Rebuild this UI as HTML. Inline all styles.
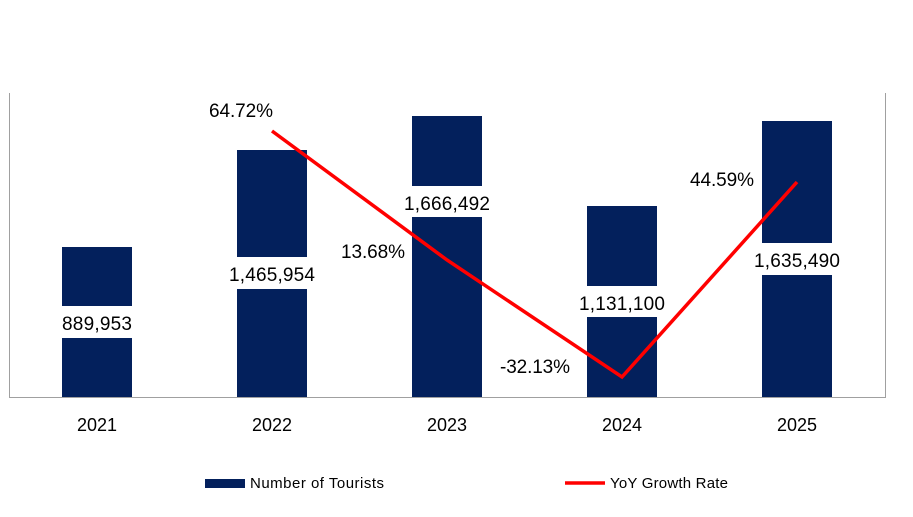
<!DOCTYPE html>
<html><head><meta charset="utf-8"><style>body{margin:0;background:#fff}svg{display:block}text{font-family:"Liberation Sans",Arial,sans-serif;fill:#000}</style></head>
<body>
<svg width="913" height="517" viewBox="0 0 913 517">
<rect width="913" height="517" fill="#fff"/>
<line x1="9.5" y1="93" x2="9.5" y2="397" stroke="#a0a0a0" stroke-width="1"/>
<line x1="885.5" y1="93" x2="885.5" y2="397" stroke="#a0a0a0" stroke-width="1"/>
<line x1="9" y1="397.5" x2="886" y2="397.5" stroke="#a0a0a0" stroke-width="1"/>
<g fill="#03205c">
<rect x="62" y="247" width="70" height="150"/>
<rect x="237" y="150" width="70" height="247"/>
<rect x="412" y="116" width="70" height="281"/>
<rect x="587" y="206" width="70" height="191"/>
<rect x="762" y="121" width="70" height="276"/>
</g>
<g fill="#fff">
<rect x="60" y="306" width="74" height="32"/>
<rect x="225" y="257" width="94" height="32"/>
<rect x="400" y="186" width="94" height="31"/>
<rect x="575" y="286" width="94" height="31"/>
<rect x="750" y="243" width="94" height="32"/>
</g>
<g font-size="19" text-anchor="middle">
<text x="97" y="330" textLength="70">889,953</text>
<text x="272" y="281" textLength="86">1,465,954</text>
<text x="447" y="210" textLength="86">1,666,492</text>
<text x="622" y="310" textLength="86">1,131,100</text>
<text x="797" y="267" textLength="86">1,635,490</text>
</g>
<polyline points="272,131 447,260 622,377 797,182" fill="none" stroke="#ff0000" stroke-width="3.5"/>
<g font-size="19" text-anchor="middle">
<text x="241" y="117" textLength="64">64.72%</text>
<text x="373" y="258" textLength="64">13.68%</text>
<text x="535" y="373" textLength="70">-32.13%</text>
<text x="722" y="186" textLength="64">44.59%</text>
</g>
<g font-size="18" text-anchor="middle">
<text x="97" y="431">2021</text>
<text x="272" y="431">2022</text>
<text x="447" y="431">2023</text>
<text x="622" y="431">2024</text>
<text x="797" y="431">2025</text>
</g>
<rect x="205" y="479" width="40" height="9" fill="#03205c"/>
<text x="250" y="488" font-size="15" textLength="134">Number of Tourists</text>
<line x1="565" y1="483" x2="605" y2="483" stroke="#ff0000" stroke-width="3.5"/>
<text x="610" y="488" font-size="15" textLength="118">YoY Growth Rate</text>
</svg>
</body></html>
